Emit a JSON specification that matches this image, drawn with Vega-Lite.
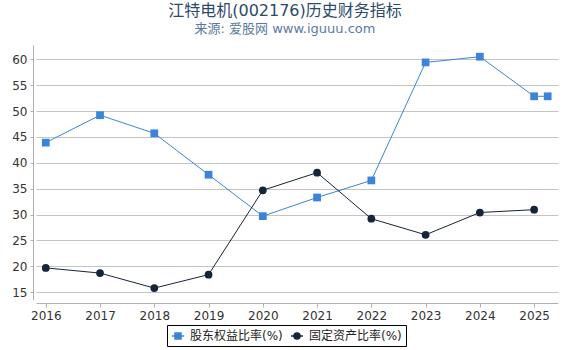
{
  "$schema": "https://vega.github.io/schema/vega-lite/v6.json",
  "width": 522,
  "height": 255,
  "autosize": {"type": "none"},
  "padding": {"left": 36, "top": 45, "right": 12, "bottom": 50},
  "background": "white",
  "config": {
    "font": "DejaVu Sans, Noto Sans CJK SC",
    "view": {"stroke": null}
  },
  "title": {
    "text": "江特电机(002176)历史财务指标",
    "subtitle": "来源: 爱股网 www.iguuu.com",
    "anchor": "middle",
    "dx": -12,
    "offset": 9,
    "fontSize": 16,
    "fontWeight": "normal",
    "color": "#2d4a6b",
    "subtitleFontSize": 13,
    "subtitleColor": "#5a7ba0",
    "subtitlePadding": 4,
    "font": "DejaVu Sans, Noto Sans CJK SC",
    "subtitleFont": "DejaVu Sans, Noto Sans CJK SC"
  },
  "data": {
    "values": [
      {"year": 2016, "value": 43.9, "series": "股东权益比率(%)"},
      {"year": 2017, "value": 49.2, "series": "股东权益比率(%)"},
      {"year": 2018, "value": 45.7, "series": "股东权益比率(%)"},
      {"year": 2019, "value": 37.7, "series": "股东权益比率(%)"},
      {"year": 2020, "value": 29.7, "series": "股东权益比率(%)"},
      {"year": 2021, "value": 33.3, "series": "股东权益比率(%)"},
      {"year": 2022, "value": 36.6, "series": "股东权益比率(%)"},
      {"year": 2023, "value": 59.4, "series": "股东权益比率(%)"},
      {"year": 2024, "value": 60.5, "series": "股东权益比率(%)"},
      {"year": 2025, "value": 52.85, "series": "股东权益比率(%)"},
      {"year": 2025.25, "value": 52.85, "series": "股东权益比率(%)"},
      {"year": 2016, "value": 19.7, "series": "固定资产比率(%)"},
      {"year": 2017, "value": 18.7, "series": "固定资产比率(%)"},
      {"year": 2018, "value": 15.8, "series": "固定资产比率(%)"},
      {"year": 2019, "value": 18.4, "series": "固定资产比率(%)"},
      {"year": 2020, "value": 34.7, "series": "固定资产比率(%)"},
      {"year": 2021, "value": 38.1, "series": "固定资产比率(%)"},
      {"year": 2022, "value": 29.2, "series": "固定资产比率(%)"},
      {"year": 2023, "value": 26.1, "series": "固定资产比率(%)"},
      {"year": 2024, "value": 30.4, "series": "固定资产比率(%)"},
      {"year": 2025, "value": 30.95, "series": "固定资产比率(%)"}
    ]
  },
  "encoding": {
    "x": {
      "field": "year",
      "type": "quantitative",
      "scale": {"domain": [2015.82, 2025.44], "nice": false, "zero": false},
      "axis": {
        "title": null,
        "values": [2016, 2017, 2018, 2019, 2020, 2021, 2022, 2023, 2024, 2025],
        "format": "d",
        "grid": false,
        "offset": 3,
        "domainColor": "#b0b0b0",
        "tickColor": "#b0b0b0",
        "tickSize": 4,
        "labelFontSize": 12,
        "labelColor": "#333333",
        "labelPadding": 3
      }
    },
    "y": {
      "field": "value",
      "type": "quantitative",
      "scale": {"domain": [13.5, 62.76], "nice": false, "zero": false},
      "axis": {
        "title": null,
        "values": [15, 20, 25, 30, 35, 40, 45, 50, 55, 60],
        "grid": true,
        "gridColor": "#c4c4c4",
        "offset": 3,
        "domainColor": "#b0b0b0",
        "tickColor": "#b0b0b0",
        "tickSize": 3,
        "labelFontSize": 12,
        "labelColor": "#333333",
        "labelPadding": 3
      }
    },
    "color": {
      "field": "series",
      "type": "nominal",
      "scale": {
        "domain": ["股东权益比率(%)", "固定资产比率(%)"],
        "range": ["#3a84d9", "#16243a"]
      },
      "legend": {
        "title": null,
        "orient": "none",
        "legendX": 131,
        "legendY": 280,
        "direction": "horizontal",
        "strokeColor": "#000000",
        "padding": 4,
        "labelFontSize": 12,
        "labelColor": "#222222",
        "symbolSize": 144,
        "symbolStrokeWidth": 1.5,
        "labelOffset": 5,
        "columnPadding": 5,
        "labelLimit": 300,
        "encode": {
          "symbols": {
            "update": {
              "shape": {"signal": "datum.value === '股东权益比率(%)' ? 'M-1,0H1M-0.5,-0.5H0.5V0.5H-0.5Z' : 'M-1,0H1M0.5,0A0.5,0.5 0 1,1 -0.5,0A0.5,0.5 0 1,1 0.5,0Z'"},
              "stroke": {"signal": "datum.value === '股东权益比率(%)' ? '#3a84d9' : '#16243a'"},
              "fill": {"signal": "datum.value === '股东权益比率(%)' ? '#3a84d9' : '#16243a'"},
              "strokeWidth": {"value": 1.5},
              "opacity": {"value": 1}
            }
          }
        }
      }
    }
  },
  "layer": [
    {
      "mark": {"type": "line", "strokeWidth": 1}
    },
    {
      "transform": [{"filter": "datum.series === '股东权益比率(%)'"}],
      "mark": {"type": "point", "filled": true, "opacity": 1, "size": 60, "shape": "square"}
    },
    {
      "transform": [{"filter": "datum.series === '固定资产比率(%)'"}],
      "mark": {"type": "point", "filled": true, "opacity": 1, "size": 60, "shape": "circle"}
    }
  ]
}
